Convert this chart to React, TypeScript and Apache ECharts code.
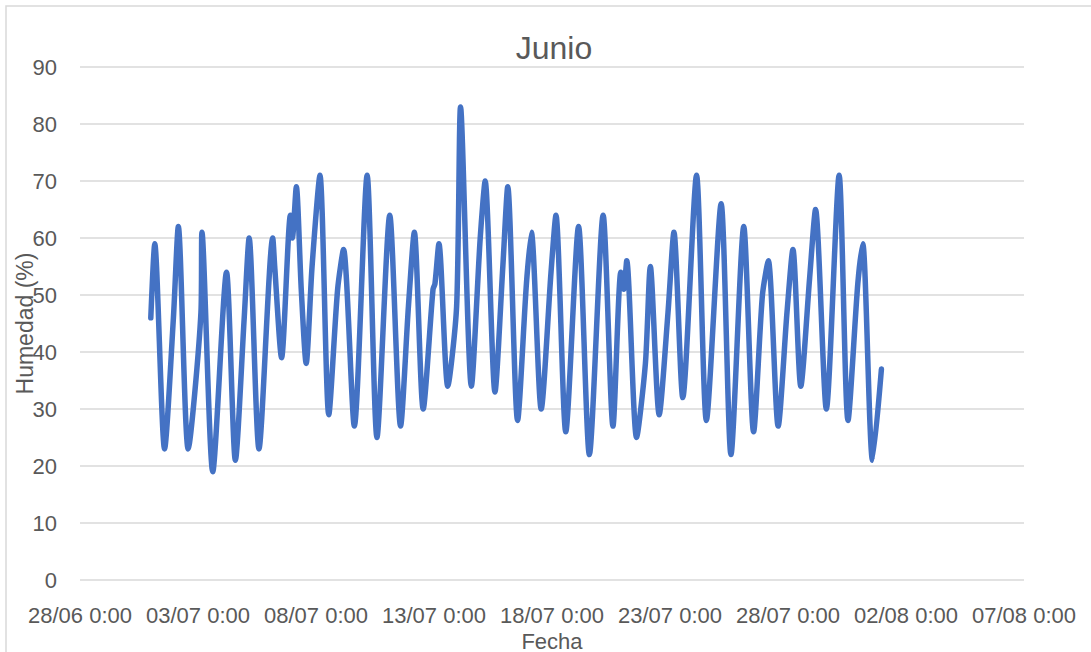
import React, { useEffect, useRef } from "react";
import * as echarts from "echarts";

// Hours elapsed since 01/07 0:00 for each reading, and the humidity (%) read at that time
const hoursFromJul1: number[] = [
  0, 4, 14, 23, 28, 38, 51, 52, 63, 77,
  86, 95, 100, 110, 124, 126, 133, 142, 144, 148,
  153, 158, 164, 172, 181, 190, 196, 207, 220, 230,
  243, 254, 262, 268, 277, 287, 289, 293, 302, 311,
  315, 326, 335, 340, 350, 358, 363, 373, 382, 387,
  397, 407, 412, 422, 435, 446, 460, 470, 478, 481,
  484, 494, 503, 508, 517, 526, 532, 541, 555, 565,
  580, 590, 603, 613, 622, 628, 638, 647, 653, 661,
  670, 676, 687, 700, 709, 719, 724, 734, 743,
];
const humidity: number[] = [
  46, 59, 23, 46, 62, 23, 47, 61, 19, 54,
  21, 46, 60, 23, 60, 55, 39, 64, 60, 69,
  51, 38, 55, 71, 29, 51, 58, 27, 71, 25,
  64, 27, 48, 61, 30, 51, 52, 59, 34, 48,
  83, 34, 60, 70, 33, 55, 69, 28, 52, 61,
  30, 54, 64, 26, 62, 22, 64, 27, 54, 51,
  56, 25, 38, 55, 29, 47, 61, 32, 71, 28,
  66, 22, 62, 26, 50, 56, 27, 47, 58, 34,
  53, 65, 30, 71, 28, 52, 59, 21, 37,
];

const title = "Junio";
const xName = "Fecha";
const yName = "Humedad (%)";
// x axis runs in days from 28/06 0:00; 01/07 0:00 is day 3
const axisStartDay = [2021, 5, 28];
const dayOffsetJul1 = 3;
const xMin = 0;
const xMax = 40;
const xStep = 5;
const yMin = 0;
const yMax = 90;
const yStep = 10;

const pad = (n: number) => (n < 10 ? "0" + n : "" + n);

export default function App() {
  const ref = useRef<HTMLDivElement>(null);
  useEffect(() => {
    if (!ref.current) return;
    const chart = echarts.init(ref.current, null, { renderer: "svg" });
    const data = hoursFromJul1.map((h, i) => [dayOffsetJul1 + h / 24, humidity[i]]);
    const font = "'Liberation Sans', Arial, sans-serif";
    chart.setOption({
      animation: false,
      backgroundColor: "#ffffff",
      title: {
        text: title,
        left: 549,
        top: 27,
        textAlign: "center",
        textStyle: { fontFamily: font, fontSize: 32, fontWeight: "normal", color: "#595959" },
      },
      graphic: [
        {
          type: "rect",
          shape: { x: 6, y: 6, width: 1200, height: 800 },
          style: { fill: "none", stroke: "#d9d9d9", lineWidth: 1.5 },
          silent: true,
        },
      ],
      grid: {
        left: 80,
        right: 67,
        top: 67,
        bottom: 72,
        containLabel: false,
        outerBoundsMode: "none",
      },
      xAxis: {
        type: "value",
        min: xMin,
        max: xMax,
        interval: xStep,
        name: xName,
        nameLocation: "middle",
        nameGap: 50,
        nameMoveOverlap: false,
        nameTextStyle: { fontFamily: font, fontSize: 22, color: "#595959" },
        axisLine: { show: false },
        axisTick: { show: false },
        splitLine: { show: false },
        axisLabel: {
          margin: 24,
          fontFamily: font,
          fontSize: 22,
          color: "#595959",
          formatter: (v: number) => {
            const d = new Date(axisStartDay[0], axisStartDay[1], axisStartDay[2] + v);
            return pad(d.getDate()) + "/" + pad(d.getMonth() + 1) + " 0:00";
          },
        },
      },
      yAxis: {
        type: "value",
        min: yMin,
        max: yMax,
        interval: yStep,
        name: yName,
        nameLocation: "middle",
        nameGap: 44,
        nameMoveOverlap: false,
        nameTextStyle: { fontFamily: font, fontSize: 23, color: "#595959" },
        axisLine: { show: false },
        axisTick: { show: false },
        splitLine: { lineStyle: { color: "#d9d9d9", width: 1.5 } },
        axisLabel: { margin: 23, fontFamily: font, fontSize: 22, color: "#595959" },
      },
      series: [
        {
          type: "line",
          data,
          showSymbol: false,
          symbol: "none",
          smooth: 0.25,
          lineStyle: { color: "#4472C4", width: 5.5, join: "round", cap: "round" },
        },
      ],
    });
    return () => chart.dispose();
  }, []);
  return (
    <div
      ref={ref}
      style={{ position: "absolute", left: 0, top: 0, width: 1091, height: 652, background: "#fff" }}
    />
  );
}
